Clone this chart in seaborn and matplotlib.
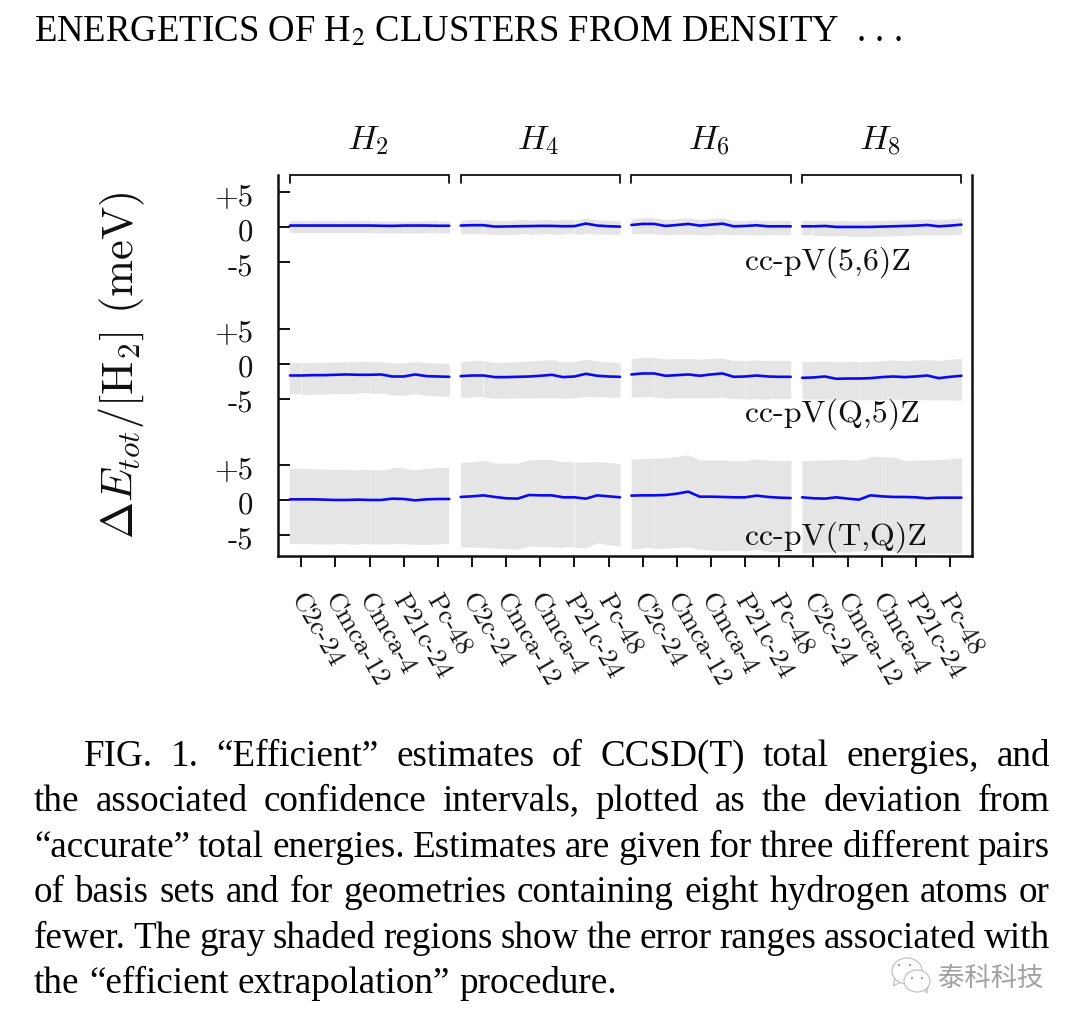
import matplotlib
matplotlib.use('Agg')
import matplotlib.pyplot as plt
from matplotlib.patches import Ellipse, Polygon
from matplotlib.transforms import ScaledTranslation
import numpy as np
import pandas as pd
import seaborn as sns

W, H = 1080, 1026

# Chart data (meV per H2), 15 points per cluster size
clusters = ['$H_2$', '$H_4$', '$H_6$', '$H_8$']
geometries = ['C2c-24', 'Cmca-12', 'Cmca-4', 'P21c-24', 'Pc-48']
basis_labels = ['cc-pV(5,6)Z', 'cc-pV(Q,5)Z', 'cc-pV(T,Q)Z']
row_shift = [39.0, 19.5, 0.0]
ytick_values = [-5, 0, 5]
ytick_labels = ['-5', '0', '+5']

line_56 = [
    .25, .25, .25, .25, .25, .25, .25, .25, .22, .20, .25, .25, .25, .22, .22,
    .25, .30, .30, .10, .12, .15, .17, .20, .20, .15, .17, .53, .25, .15, .10,
    .33, .48, .48, .19, .33, .48, .24, .38, .52, .14, .19, .29, .14, .14, .14,
    .14, .14, .19, .05, .05, .05, .05, .10, .14, .19, .24, .33, .14, .24, .38,
]
upper_56 = [
    .90, .90, .90, .90, .90, .90, .90, .90, .88, .85, .88, .90, .88, .88, .86,
    1.0, 1.1, 1.1, .95, .97, 1.0, 1.0, 1.05, 1.05, 1.0, 1.0, 1.3, 1.05, 1.0, .95,
    1.19, 1.33, 1.33, 1.10, 1.19, 1.33, 1.10, 1.24, 1.33, .95, .95, 1.05, .95, .95, .95,
    .95, .95, .95, .90, .90, .90, .95, .95, 1.0, 1.05, 1.10, 1.19, 1.05, 1.19, 1.33,
]
lower_56 = [
    -.75, -.75, -.75, -.75, -.75, -.75, -.75, -.75, -.78, -.80, -.78, -.75, -.78, -.78, -.80,
    -.90, -.90, -.90, -1.0, -1.0, -1.0, -1.0, -.95, -.95, -1.0, -1.0, -.85, -.95, -.95, -1.0,
    -.90, -.90, -.90, -1.05, -.95, -.95, -1.05, -1.05, -.95, -1.05, -1.05, -1.05, -1.05, -1.05, -1.05,
    -1.14, -1.14, -1.19, -1.24, -1.24, -1.29, -1.29, -1.24, -1.19, -1.14, -1.10, -1.05, -1.05, -1.05, -1.0,
]

line_q5 = [
    -1.67, -1.67, -1.62, -1.62, -1.57, -1.52, -1.57, -1.57, -1.52, -1.81, -1.81, -1.52, -1.76, -1.81, -1.86,
    -1.76, -1.67, -1.67, -1.90, -1.90, -1.86, -1.81, -1.71, -1.57, -1.90, -1.81, -1.43, -1.71, -1.81, -1.86,
    -1.52, -1.38, -1.38, -1.71, -1.62, -1.52, -1.71, -1.52, -1.38, -1.86, -1.81, -1.67, -1.81, -1.86, -1.86,
    -2.00, -1.95, -1.81, -2.14, -2.10, -2.10, -2.05, -1.90, -1.81, -1.90, -1.81, -1.67, -2.05, -1.86, -1.71,
]
upper_q5 = [
    .14, .14, .19, .19, .24, .29, .24, .24, .29, .10, .10, .29, .14, .10, .05,
    .29, .43, .43, .14, .24, .29, .38, .48, .57, .24, .33, .62, .38, .24, .14,
    .71, .86, .86, .67, .71, .76, .62, .76, .81, .43, .43, .52, .43, .43, .43,
    .29, .33, .38, .24, .29, .29, .33, .43, .52, .43, .52, .62, .43, .62, .76,
]
lower_q5 = [
    -4.38, -4.38, -4.33, -4.29, -4.24, -4.24, -4.24, -4.24, -4.14, -4.43, -4.48, -4.24, -4.52, -4.57, -4.62,
    -4.76, -4.76, -4.76, -4.90, -4.90, -4.86, -4.86, -4.86, -4.81, -4.90, -4.86, -4.62, -4.71, -4.76, -4.76,
    -4.71, -4.71, -4.71, -4.90, -4.86, -4.81, -4.86, -4.86, -4.76, -5.00, -5.00, -4.95, -5.05, -5.05, -5.05,
    -5.00, -5.00, -5.00, -5.10, -5.10, -5.10, -5.10, -5.10, -5.05, -5.10, -5.10, -5.10, -5.14, -5.14, -5.19,
]

line_tq = [
    .14, .14, .14, .10, .05, .05, .10, .05, .05, .24, .19, .00, .14, .19, .19,
    .48, .57, .71, .48, .29, .24, .76, .71, .71, .43, .43, .24, .71, .57, .43,
    .67, .71, .71, .76, .95, 1.24, .52, .52, .48, .43, .43, .67, .48, .38, .33,
    .43, .29, .24, .43, .24, .10, .71, .57, .48, .48, .43, .29, .38, .38, .38,
]
upper_tq = [
    4.48, 4.48, 4.48, 4.43, 4.38, 4.38, 4.33, 4.33, 4.33, 4.57, 4.57, 4.33, 4.57, 4.62, 4.62,
    5.38, 5.48, 5.67, 5.33, 5.29, 5.29, 5.76, 5.81, 5.81, 5.43, 5.43, 5.43, 5.52, 5.40, 5.20,
    5.86, 5.95, 5.95, 6.05, 6.24, 6.48, 5.76, 5.76, 5.76, 5.62, 5.67, 5.90, 5.71, 5.67, 5.67,
    5.67, 5.67, 5.76, 5.76, 5.76, 5.71, 6.14, 6.14, 6.19, 5.67, 5.71, 5.76, 5.81, 5.90, 6.10,
]
lower_tq = [
    -6.19, -6.19, -6.19, -6.19, -6.24, -6.24, -6.24, -6.24, -6.19, -6.19, -6.19, -6.24, -6.24, -6.24, -6.24,
    -6.62, -6.67, -6.67, -6.81, -6.90, -6.95, -6.52, -6.62, -6.62, -6.71, -6.71, -6.76, -6.10, -6.33, -6.52,
    -6.86, -6.86, -6.86, -6.81, -6.71, -6.62, -6.95, -7.10, -7.19, -7.10, -7.19, -7.00, -7.29, -7.33, -7.43,
    -7.48, -7.43, -7.38, -7.33, -7.33, -7.19, -7.14, -7.14, -7.24, -7.48, -7.48, -7.48, -7.48, -7.57, -7.57,
]

title_text = 'ENERGETICS OF H$_2$ CLUSTERS FROM DENSITY  . . .'
caption_lines = [
    'FIG. 1. “Efficient” estimates of CCSD(T) total energies, and',
    'the associated confidence intervals, plotted as the deviation from',
    '“accurate” total energies. Estimates are given for three different pairs',
    'of basis sets and for geometries containing eight hydrogen atoms or',
    'fewer. The gray shaded regions show the error ranges associated with',
    'the “efficient extrapolation” procedure.',
]
watermark_text = '泰科科技'

sns.set_theme(style='ticks')
plt.rcParams['font.family'] = 'cmr10'
plt.rcParams['mathtext.fontset'] = 'cm'
plt.rcParams['axes.unicode_minus'] = False
plt.rcParams['axes.formatter.use_mathtext'] = True

BLACK = '#111111'


def px(x, y):
    """Pixel position (from top left) to figure fraction."""
    return x / W, 1 - y / H


# tidy table, one row per point
frames = []
for row, (line, upper, lower) in enumerate([(line_56, upper_56, lower_56),
                                            (line_q5, upper_q5, lower_q5),
                                            (line_tq, upper_tq, lower_tq)]):
    frames.append(pd.DataFrame({
        'pos': np.arange(60),
        'group': np.repeat(np.arange(4), 15),
        'row': row,
        'line': np.array(line) + row_shift[row],
        'upper': np.array(upper) + row_shift[row],
        'lower': np.array(lower) + row_shift[row],
    }))
df = pd.concat(frames, ignore_index=True)

fig = plt.figure(figsize=(W / 100, H / 100), dpi=100, facecolor='white')
ax = fig.add_axes([278 / W, 1 - 555.7 / H, (971.7 - 278) / W, (555.7 - 175) / H])

for (row, group), sub in df.groupby(['row', 'group']):
    # one strip per interval, the seams show faintly as in the original
    for i in range(len(sub) - 1):
        part = sub.iloc[i:i + 2]
        ax.fill_between(part['pos'], part['lower'], part['upper'],
                        facecolor='#E5E5E5', edgecolor='#E8E8E8', lw=0.2, zorder=1)
    sns.lineplot(data=sub, x='pos', y='line', color='#0A0AF0', lw=1.9,
                 errorbar=None, legend=False, ax=ax, zorder=3)

ax.set_xlim(-1.05, 59.9)
ax.set_ylim(-7.91, 46.47)
ax.set_xlabel('')
ax.set_ylabel('')

for side in ['left', 'right', 'bottom']:
    ax.spines[side].set_linewidth(1.8)
    ax.spines[side].set_color(BLACK)
ax.spines['top'].set_visible(False)

# geometry ticks sit on the middle point of every three
xticks = np.arange(1, 60, 3)
ax.set_xticks(xticks)
ax.set_xticklabels(geometries * 4, rotation=-60, ha='left', va='top',
                   rotation_mode='anchor', fontsize=19.5, color=BLACK)
ax.tick_params(axis='x', direction='out', length=8, width=1.4, pad=16.5, color=BLACK)
shift_x = ScaledTranslation(5 / 100, 0, fig.dpi_scale_trans)
for lab in ax.get_xticklabels():
    lab.set_transform(lab.get_transform() + shift_x)

yticks = [v + s for s in row_shift[::-1] for v in ytick_values]
ax.set_yticks(yticks)
ax.set_yticklabels(ytick_labels * 3, fontsize=22, color=BLACK)
ax.tick_params(axis='y', direction='in', length=8.5, width=1.4, pad=18, color=BLACK)
shift_down = ScaledTranslation(0, -2 / 100, fig.dpi_scale_trans)
for lab in ax.get_yticklabels():
    lab.set_transform(lab.get_transform() + shift_down)

# brackets and cluster names above the panel
bracket_trans = ax.get_xaxis_transform()
for g, name in enumerate(clusters):
    start, end = 15 * g, 15 * g + 14
    ax.plot([start, start, end, end], [0.98, 1.0, 1.0, 0.98], transform=bracket_trans,
            color=BLACK, lw=1.3, clip_on=False, solid_joinstyle='miter', zorder=4)
    ax.text((start + end) / 2 - 0.15, 1.09, name, transform=bracket_trans, ha='center',
            va='center', fontsize=25, color=BLACK)

for label, lx, ly in zip(basis_labels, [40, 40, 40], [32.9, 11.2, -6.3]):
    ax.text(lx, ly, label, fontsize=23, color=BLACK, ha='left', va='baseline', zorder=5)

fig.text(*px(122, 365), r'$\Delta E_{tot}/[\mathrm{H}_2]$ (meV)', rotation=90,
         ha='center', va='center', fontsize=32, color=BLACK)

# running head and caption in a Times like face
serif = 'Liberation Serif'
fig.text(*px(34, 41), title_text, family=serif, math_fontfamily='stix',
         fontsize=26.5, color='black', ha='left', va='baseline')

renderer = fig.canvas.get_renderer()


def justified(text, left, right, y, size=26.7, stretch=True):
    words = text.split(' ')
    items = [fig.text(*px(left, y), w, family=serif, fontsize=size, color='black',
                      ha='left', va='baseline') for w in words]
    widths = [t.get_window_extent(renderer).width for t in items]
    space = (right - left - sum(widths)) / (len(words) - 1) if stretch else size * 0.25 * 100 / 72
    cur = left
    for t, wd in zip(items, widths):
        t.set_position(px(cur, y))
        cur += wd + space


baselines = [766, 811, 857, 902, 948, 993]
lefts = [84, 34, 34, 34, 34, 34]
for i, (txt, base, left) in enumerate(zip(caption_lines, baselines, lefts)):
    justified(txt, left, 1050, base, stretch=i < 5)

# watermark
overlay = fig.add_axes([0, 0, 1, 1], facecolor='none')
overlay.set_xlim(0, W)
overlay.set_ylim(H, 0)
overlay.axis('off')
wm_edge = '#BDBDBD'
overlay.add_patch(Polygon([[896, 975], [893, 986], [905, 980]], fc='white', ec=wm_edge, lw=0.8))
overlay.add_patch(Ellipse((907, 971), 30, 26, fc='white', ec=wm_edge, lw=0.8))
overlay.add_patch(Polygon([[921, 985], [927, 993], [929, 982]], fc='white', ec=wm_edge, lw=0.8))
overlay.add_patch(Ellipse((917, 981), 26, 22, fc='white', ec=wm_edge, lw=0.8))
for ex, ey in [(899, 965), (910, 965), (912, 978), (922, 978)]:
    overlay.add_patch(Ellipse((ex, ey), 2.5, 2.5, fc='#A8A8A8', ec='none'))
overlay.text(938, 978, watermark_text, family=['Noto Sans CJK SC', 'DejaVu Sans'],
             fontsize=19, color='#A0A0A0', ha='left', va='center')

fig.savefig('out.png', dpi=100, facecolor='white')
